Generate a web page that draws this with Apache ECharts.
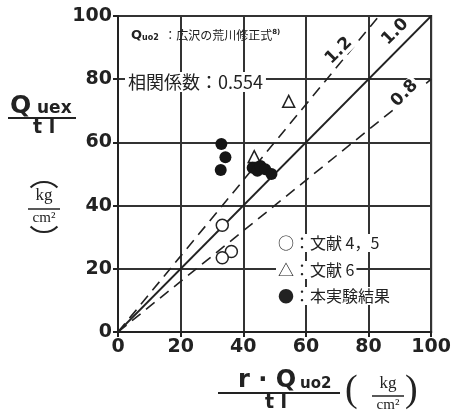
<!DOCTYPE html>
<html>
<head>
<meta charset="utf-8">
<script src="https://cdn.jsdelivr.net/npm/echarts@6/dist/echarts.min.js"></script>
<style>
  html, body { margin: 0; padding: 0; background: #fff; }
  #main { width: 454px; height: 415px; }
</style>
</head>
<body>
<div id="main"></div>
<script>
// data
var tickLabels = [0, 20, 40, 60, 80, 100]
var ref45 = [[33.3, 33.8], [36.2, 25.5], [33.3, 23.5]]      // 文献 4, 5
var ref6 = [[43.5, 55.5], [54.5, 73]]                        // 文献 6
var thisExp = [[33, 59.5], [34.3, 55.3], [32.8, 51.3], [43, 52], [44.5, 51], [45.5, 52.5], [47, 51.5], [49, 50]]  // 本実験結果
var ratios = [1.2, 1.0, 0.8]
var ratioLabels = ['1.2', '1.0', '0.8']
var ratioLabelPos = [[70.5, 89], [88.5, 95], [91.5, 75.5]]

var ink = '#222'
var CJK = '"Noto Sans CJK JP", sans-serif'
var NUM = '"DejaVu Sans", sans-serif'
var SERIF = '"Liberation Serif", serif'

function ratioLine(r) {
  var xe = Math.min(100, 100 / r)
  return [[0, 0], [xe, r * xe]]
}

var myChart = echarts.init(document.getElementById('main'))

var axisCommon = {
  type: 'value', min: 0, max: 100, interval: 20,
  axisLine: { lineStyle: { color: ink, width: 2 } },
  axisTick: { show: true, length: 5, lineStyle: { color: ink, width: 2 } },
  axisLabel: { color: ink, fontFamily: NUM, fontWeight: 'bold', fontSize: 19, margin: 6,
    formatter: function (v) { return tickLabels.indexOf(v) >= 0 ? String(v) : '' } },
  splitLine: { show: true, lineStyle: { color: '#333', width: 2 } }
}

var option = {
  backgroundColor: '#fff',
  animation: false,
  grid: { left: 118, right: 22, top: 16, bottom: 83, show: true, borderColor: ink, borderWidth: 2, backgroundColor: 'transparent' },
  xAxis: axisCommon,
  yAxis: axisCommon,
  series: [
    { type: 'line', data: ratioLine(ratios[0]), symbol: 'none', z: 3,
      lineStyle: { color: ink, width: 1.6, type: [11, 7] } },
    { type: 'line', data: ratioLine(ratios[1]), symbol: 'none', z: 3,
      lineStyle: { color: ink, width: 1.8 } },
    { type: 'line', data: ratioLine(ratios[2]), symbol: 'none', z: 3,
      lineStyle: { color: ink, width: 1.6, type: [11, 7] } },
    { name: '文献 4, 5', type: 'scatter', data: ref45, symbol: 'circle', symbolSize: 12, z: 5,
      itemStyle: { color: '#fff', borderColor: ink, borderWidth: 1.5, opacity: 1 } },
    { name: '文献 6', type: 'scatter', data: ref6, symbol: 'triangle', symbolSize: 12, z: 5,
      itemStyle: { color: '#fff', borderColor: ink, borderWidth: 1.5, opacity: 1 } },
    { name: '本実験結果', type: 'scatter', data: thisExp, symbol: 'circle', symbolSize: 12, z: 6,
      itemStyle: { color: '#151515', opacity: 1 } }
  ]
}
myChart.setOption(option)

// texts and labels
var g = []
function txt(x, y, s, size, opt) {
  g.push({ type: 'text', x: x, y: y, z: 100,
    style: Object.assign({ text: s, fill: ink, font: size + 'px ' + CJK }, opt || {}) })
}
function line(x1, y1, x2, y2, w) {
  g.push({ type: 'line', z: 100, shape: { x1: x1, y1: y1, x2: x2, y2: y2 }, style: { stroke: ink, lineWidth: w || 2 } })
}
function arc(cx, cy, r, a0, a1) {
  g.push({ type: 'arc', z: 100, shape: { cx: cx, cy: cy, r: r, startAngle: a0, endAngle: a1 }, style: { stroke: ink, lineWidth: 2, fill: null } })
}

// ratio line labels
ratioLabels.forEach(function (s, i) {
  var p = myChart.convertToPixel({ gridIndex: 0 }, ratioLabelPos[i])
  g.push({ type: 'text', x: p[0], y: p[1], rotation: Math.PI / 4, z: 100,
    style: { text: s, fill: ink, font: 'bold 17px ' + NUM, align: 'center', verticalAlign: 'middle',
      backgroundColor: i === 1 ? 'transparent' : '#fff', padding: [0, 2] } })
})

// top-left notes
txt(131, 29, '{q|Q}{s|uo2}{t|  ：広沢の荒川修正式}{sup|8)}', 12, {
  rich: {
    q: { font: 'bold 13px ' + NUM, fill: ink },
    s: { font: 'bold 8px ' + NUM, fill: ink, padding: [4, 0, 0, 0] },
    t: { font: '12px ' + CJK, fill: ink },
    sup: { font: 'bold 7px ' + NUM, fill: ink, padding: [0, 0, 6, 0] }
  } })
txt(125, 72, '相関係数：0.554', 18, { backgroundColor: '#fff', padding: [1, 3] })

// legend block
txt(276, 234, '○：文献 4，5', 16, { backgroundColor: '#fff', padding: [1, 2] })
txt(276, 261, '△：文献 6', 16, { backgroundColor: '#fff', padding: [1, 2] })
txt(276, 287, '●：本実験結果', 16, { backgroundColor: '#fff', padding: [1, 2] })

// y axis title
txt(10, 94, 'Q', 25, { font: 'bold 25px ' + NUM })
txt(37, 100, 'uex', 17, { font: 'bold 17px ' + NUM })
line(8, 118, 76, 118, 2)
txt(33, 119, 't l', 19, { font: 'bold 19px ' + NUM })
arc(44, 201, 19, Math.PI * 1.25, Math.PI * 1.75)
txt(44, 187, 'kg', 17, { font: '17px ' + SERIF, align: 'center' })
line(28, 209, 60, 209, 1.5)
txt(44, 211, 'cm²', 15, { font: '15px ' + SERIF, align: 'center' })
arc(44, 213, 19, Math.PI * 0.25, Math.PI * 0.75)

// x axis title
txt(238, 369, 'r · Q', 24, { font: 'bold 24px ' + NUM })
txt(300, 377, 'uo2', 15, { font: 'bold 15px ' + NUM })
line(218, 393, 340, 393, 2)
txt(276, 394, 't l', 19, { font: 'bold 19px ' + NUM, align: 'center' })
txt(345, 372, '(', 38, { font: '38px ' + SERIF })
txt(388, 375, 'kg', 17, { font: '17px ' + SERIF, align: 'center' })
line(372, 396, 404, 396, 1.5)
txt(388, 398, 'cm²', 15, { font: '15px ' + SERIF, align: 'center' })
txt(405, 372, ')', 38, { font: '38px ' + SERIF })

myChart.setOption({ graphic: g })
</script>
</body>
</html>
